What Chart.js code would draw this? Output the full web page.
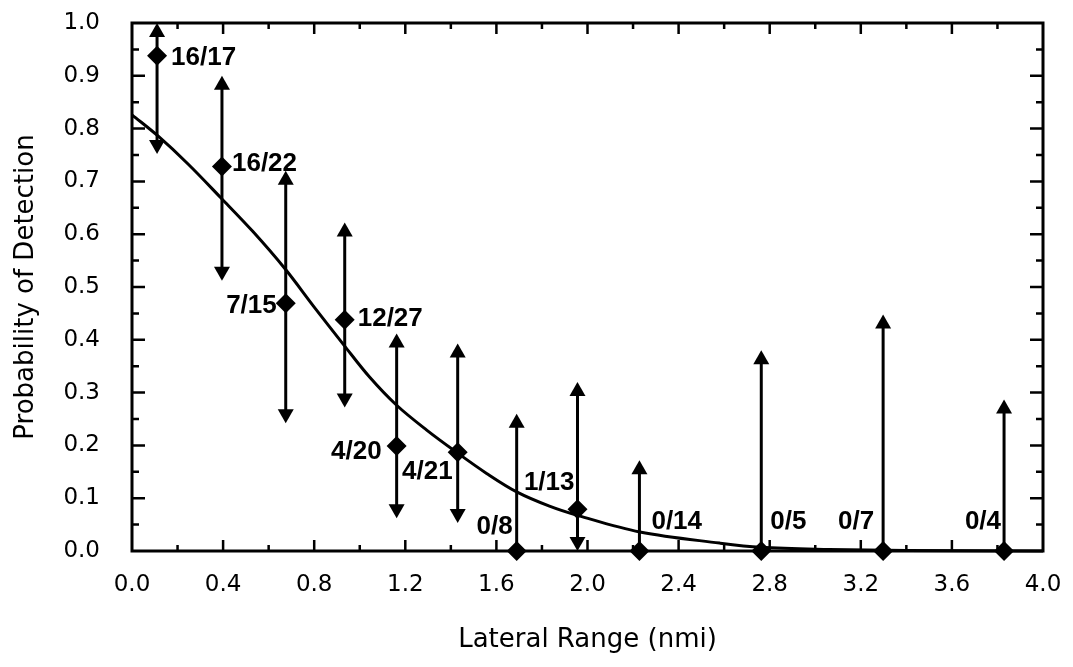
<!DOCTYPE html>
<html>
<head>
<meta charset="utf-8">
<script src="https://cdn.jsdelivr.net/npm/chart.js@4"></script>
<style>
  html, body { margin: 0; padding: 0; background: #fff; }
  #wrap { width: 1073px; height: 667px; }
</style>
</head>
<body>
<div id="wrap"><canvas id="pd-chart"></canvas></div>
<script>
// observed detections per lateral range bin
const rangeNmi = [0.11, 0.395, 0.675, 0.934, 1.162, 1.43, 1.689, 1.956, 2.228, 2.763, 3.298, 3.829];
const detectProb = [0.938, 0.728, 0.469, 0.438, 0.199, 0.187, 0, 0.079, 0, 0, 0, 0];
const upperLimit = [1.0, 0.90, 0.72, 0.622, 0.412, 0.393, 0.26, 0.32, 0.172, 0.38, 0.448, 0.287];
const lowerLimit = [0.752, 0.512, 0.242, 0.272, 0.062, 0.053, null, 0, null, null, null, null];
const counts = ['16/17', '16/22', '7/15', '12/27', '4/20', '4/21', '0/8', '1/13', '0/14', '0/5', '0/7', '0/4'];

// fitted lateral range curve
const curveX = [0.0, 0.114, 0.246, 0.39, 0.531, 0.671, 0.8, 0.934, 1.044, 1.162, 1.294, 1.425, 1.557, 1.689, 1.833, 1.96, 2.23, 2.58, 2.76, 3.06, 3.4, 4.0];
const curveY = [0.826, 0.786, 0.733, 0.669, 0.605, 0.535, 0.462, 0.388, 0.329, 0.276, 0.229, 0.187, 0.147, 0.112, 0.085, 0.067, 0.036, 0.015, 0.007, 0.003, 0.001, 0.0];

const xTickValues = [0, 0.4, 0.8, 1.2, 1.6, 2.0, 2.4, 2.8, 3.2, 3.6, 4.0];
const xTickLabels = ['0.0', '0.4', '0.8', '1.2', '1.6', '2.0', '2.4', '2.8', '3.2', '3.6', '4.0'];
const yTickValues = [0, 0.1, 0.2, 0.3, 0.4, 0.5, 0.6, 0.7, 0.8, 0.9, 1.0];
const yTickLabels = ['0.0', '0.1', '0.2', '0.3', '0.4', '0.5', '0.6', '0.7', '0.8', '0.9', '1.0'];

// where each count label sits relative to its point: [dx, dy, align]
const labelPlace = [
  [14, 2, 'left'], [10, -3, 'left'], [-9, 2, 'right'], [13, -1, 'left'],
  [-15, 6, 'right'], [-5, 20, 'right'], [-4, -24, 'right'], [-3, -26, 'right'],
  [12, -29, 'left'], [9, -29, 'left'], [-9, -29, 'right'], [-3, -29, 'right']
];

const ink = '#000';

function arrowHead(ctx, x, y, dir) {
  // dir -1 = pointing up, 1 = pointing down
  ctx.beginPath();
  ctx.moveTo(x, y);
  ctx.lineTo(x - 8, y - dir * 14);
  ctx.lineTo(x + 8, y - dir * 14);
  ctx.closePath();
  ctx.fill();
}

const errorBars = {
  id: 'errorBars',
  beforeDatasetsDraw(chart) {
    const {ctx, scales: {x, y}} = chart;
    ctx.save();
    ctx.strokeStyle = ink;
    ctx.fillStyle = ink;
    ctx.lineWidth = 3;
    rangeNmi.forEach((r, i) => {
      const px = x.getPixelForValue(r);
      const py = y.getPixelForValue(detectProb[i]);
      if (upperLimit[i] != null) {
        const top = y.getPixelForValue(upperLimit[i]);
        ctx.beginPath();
        ctx.moveTo(px, py);
        ctx.lineTo(px, top + 10);
        ctx.stroke();
        arrowHead(ctx, px, top, -1);
      }
      if (lowerLimit[i] != null) {
        const bot = y.getPixelForValue(lowerLimit[i]);
        ctx.beginPath();
        ctx.moveTo(px, py);
        ctx.lineTo(px, bot - 10);
        ctx.stroke();
        arrowHead(ctx, px, bot, 1);
      }
    });
    ctx.restore();
  },
  afterDatasetsDraw(chart) {
    const {ctx, scales: {x, y}} = chart;
    ctx.save();
    ctx.fillStyle = ink;
    ctx.font = 'bold 26px "Liberation Sans", Arial, sans-serif';
    ctx.textBaseline = 'middle';
    counts.forEach((txt, i) => {
      const px = x.getPixelForValue(rangeNmi[i]);
      const py = y.getPixelForValue(detectProb[i]);
      const p = labelPlace[i];
      ctx.textAlign = p[2];
      ctx.fillText(txt, px + p[0], py + p[1]);
    });
    ctx.restore();
  }
};

// boxed frame with inward tick marks on all four sides
const frame = {
  id: 'frame',
  afterDraw(chart) {
    const {ctx, chartArea: a, scales: {x, y}} = chart;
    ctx.save();
    ctx.strokeStyle = ink;
    ctx.lineWidth = 3;
    ctx.strokeRect(a.left, a.top, a.right - a.left, a.bottom - a.top);
    ctx.lineWidth = 2.5;
    ctx.beginPath();
    for (let k = 1; k < 20; k++) {
      const v = k * 0.2;
      const px = x.getPixelForValue(v);
      const len = k % 2 === 0 ? 11 : 6;
      ctx.moveTo(px, a.bottom);
      ctx.lineTo(px, a.bottom - len);
      ctx.moveTo(px, a.top);
      ctx.lineTo(px, a.top + len);
    }
    for (let k = 1; k < 20; k++) {
      const v = k * 0.05;
      const py = y.getPixelForValue(v);
      const len = k % 2 === 0 ? 13 : 7;
      ctx.moveTo(a.left, py);
      ctx.lineTo(a.left + len, py);
      ctx.moveTo(a.right, py);
      ctx.lineTo(a.right - len, py);
    }
    ctx.stroke();
    ctx.restore();
  }
};

const tickFont = {family: '"DejaVu Sans", sans-serif', size: 23};
const titleFont = {family: '"DejaVu Sans", sans-serif', size: 26};

new Chart(document.getElementById('pd-chart'), {
  type: 'scatter',
  data: {
    datasets: [
      {
        type: 'line',
        label: 'Fitted curve',
        data: curveX.map((v, i) => ({x: v, y: curveY[i]})),
        borderColor: ink,
        borderWidth: 3,
        pointRadius: 0,
        tension: 0.35,
        fill: false
      },
      {
        label: 'Observed',
        data: rangeNmi.map((v, i) => ({x: v, y: detectProb[i]})),
        pointStyle: 'rectRot',
        pointRadius: 10,
        backgroundColor: ink,
        borderColor: ink,
        borderWidth: 0
      }
    ]
  },
  options: {
    responsive: true,
    maintainAspectRatio: false,
    animation: false,
    clip: false,
    layout: {padding: {top: 23, right: 30, left: 0, bottom: 0}},
    plugins: {
      legend: {display: false},
      tooltip: {enabled: false}
    },
    scales: {
      x: {
        type: 'linear',
        min: 0,
        max: 4,
        grid: {display: false},
        border: {display: false},
        afterBuildTicks: s => { s.ticks = xTickValues.map(v => ({value: v})); },
        afterFit: s => { s.height = 116; s.paddingLeft = 0; s.paddingRight = 0; },
        ticks: {
          color: ink,
          font: tickFont,
          padding: 12,
          maxRotation: 0,
          callback: (v, i) => xTickLabels[i]
        },
        title: {
          display: true,
          text: 'Lateral Range (nmi)',
          color: ink,
          font: titleFont,
          padding: {bottom: 11}
        }
      },
      y: {
        type: 'linear',
        min: 0,
        max: 1,
        grid: {display: false},
        border: {display: false},
        afterBuildTicks: s => { s.ticks = yTickValues.map(v => ({value: v})); },
        afterFit: s => { s.width = 132; s.paddingTop = 0; s.paddingBottom = 0; },
        ticks: {
          color: ink,
          font: tickFont,
          padding: 24,
          callback: (v, i) => yTickLabels[i]
        },
        title: {
          display: true,
          text: 'Probability of Detection',
          color: ink,
          font: titleFont,
          padding: {top: 11}
        }
      }
    }
  },
  plugins: [errorBars, frame]
});
</script>
</body>
</html>
